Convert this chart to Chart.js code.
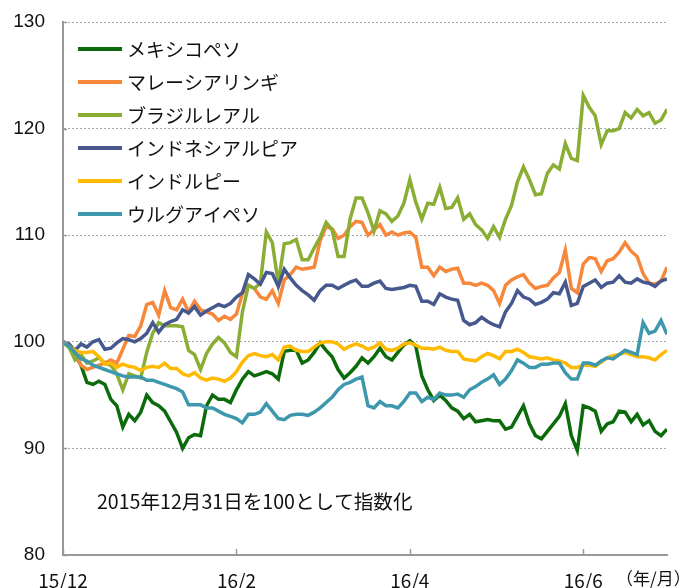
<!DOCTYPE html>
<html>
<head>
<meta charset="utf-8">
<script src="https://cdn.jsdelivr.net/npm/chart.js@4.4.1/dist/chart.umd.min.js"></script>
<style>
  html, body { margin: 0; padding: 0; background: #fff; }
</style>
</head>
<body>
<canvas id="fxChart" width="693" height="588"></canvas>
<script>
// ── DATA ───────────────────────────────────────────────────────
// 2015/12/31 = 100, one value per trading-day sample
const seriesNames = ['メキシコペソ', 'マレーシアリンギ', 'ブラジルレアル', 'インドネシアルピア', 'インドルピー', 'ウルグアイペソ'];
const seriesColors = ['#0b6b0b', '#f7873a', '#8aae34', '#46588e', '#ffba00', '#3d98ae'];

const mexico = [
  100.0, 99.5, 98.8, 97.8, 96.2, 96.0, 96.3, 96.0, 94.6, 94.0,
  92.0, 93.2, 92.6, 93.4, 95.0, 94.3, 94.0, 93.5, 92.5, 91.5,
  90.0, 91.0, 91.3, 91.2, 94.0, 95.0, 94.6, 94.6, 94.3, 95.5,
  96.5, 97.2, 96.8, 97.0, 97.2, 97.0, 96.5, 99.1, 99.2, 99.2,
  98.0, 98.3, 99.0, 99.9, 99.2, 98.6, 97.4, 96.6, 97.1, 97.7,
  98.5, 98.0, 98.6, 99.4, 98.6, 98.3, 99.0, 99.7, 100.1, 99.6,
  96.8, 95.5, 94.5, 95.0, 94.5, 93.8, 93.5, 92.8, 93.2, 92.5,
  92.6, 92.7, 92.6, 92.6, 91.8, 92.0, 93.0, 94.0, 92.3, 91.2,
  90.9, 91.6, 92.3, 93.0, 94.2, 91.2, 89.8, 94.0, 93.8, 93.5,
  91.6, 92.3, 92.5, 93.5, 93.4, 92.5, 93.2, 92.2, 92.6, 91.6, 91.2, 91.8
];
const malaysia = [
  100.0, 99.7, 99.0, 97.8, 97.4, 97.6, 97.8, 98.0, 98.3, 98.0,
  99.3, 100.6, 100.5, 101.5, 103.5, 103.7, 102.5, 104.8, 103.2, 103.0,
  104.0, 102.8, 103.8, 103.0, 102.8, 102.6, 102.0, 102.4, 102.1, 102.6,
  104.5, 105.3, 105.0, 104.2, 104.0, 104.8, 103.6, 105.8, 106.3, 107.0,
  106.8, 106.9, 107.0, 109.5, 110.8, 110.6, 109.7, 110.0, 110.8, 111.3,
  111.2, 110.0, 110.5, 111.0, 110.0, 110.3, 110.0, 110.2, 110.3, 109.8,
  107.0, 107.0, 106.2, 107.0, 106.6, 106.8, 106.9, 105.5, 105.5, 105.3,
  105.5, 105.3, 104.8, 103.6, 105.3, 105.8, 106.1, 106.3, 105.5, 105.0,
  105.2, 105.3, 106.0, 106.5, 108.6, 105.0, 104.6, 107.3, 107.9, 107.8,
  106.6, 107.6, 107.8, 108.4, 109.3, 108.5, 108.0, 106.4, 105.5, 105.4, 105.7, 107.0
];
const brazil = [
  100.0, 99.5, 98.3, 98.8, 98.0, 98.2, 98.5, 98.0, 97.8, 97.0,
  95.5, 97.0, 96.8, 96.6, 99.0, 100.8, 101.8, 101.5, 101.5, 101.5,
  101.4, 99.2, 98.8, 97.4, 98.9, 99.8, 100.4, 99.9, 99.0, 98.6,
  102.8, 105.3, 105.0, 105.5, 110.3, 109.3, 105.5, 109.2, 109.3, 109.6,
  107.7, 107.7, 108.8, 109.8, 111.2, 110.5, 108.0, 108.0, 111.5, 113.5,
  113.5, 112.1, 110.4, 112.3, 112.0, 111.3, 111.8, 113.0, 115.2, 113.1,
  111.5, 113.0, 112.9, 114.5, 112.5, 112.6, 113.5, 111.5, 112.0, 111.0,
  110.5, 109.7, 110.8, 109.8, 111.5, 112.8, 115.0, 116.4, 115.2, 113.8,
  113.9, 115.8, 116.6, 116.2, 118.6, 117.2, 117.0, 123.1, 122.0, 121.2,
  118.5, 119.8, 119.8, 120.0, 121.5, 121.0, 121.8, 121.2, 121.5, 120.5, 120.8, 121.8
];
const indonesia = [
  100.0, 99.8, 99.2, 99.8, 99.5, 100.0, 100.2, 99.3, 99.4, 99.9,
  100.3, 100.2, 100.0, 100.3, 100.8, 101.8, 100.9, 101.6, 101.9, 102.1,
  103.0, 102.7, 103.3, 102.5, 102.9, 103.2, 103.5, 103.3, 103.6, 104.2,
  104.6, 106.3, 105.9, 105.4, 106.5, 106.4, 105.2, 106.8, 106.0, 105.3,
  104.8, 104.4, 103.9, 104.8, 105.3, 105.3, 105.0, 105.3, 105.6, 105.8,
  105.2, 105.2, 105.5, 105.7, 105.0, 104.9, 105.0, 105.1, 105.3, 105.2,
  103.8, 103.8, 103.5, 104.5, 104.2, 104.0, 103.9, 102.0, 101.6, 101.8,
  102.3, 101.9, 101.6, 101.4, 102.8, 103.6, 104.8, 104.2, 104.0, 103.5,
  103.7, 104.0, 104.6, 104.5, 105.6, 103.4, 103.6, 105.2, 105.5, 105.8,
  105.1, 105.5, 105.6, 106.2, 105.6, 105.5, 105.9, 105.6, 105.5, 105.2, 105.7, 105.9
];
const india = [
  100.0, 99.6, 99.2, 99.0, 99.0, 99.1, 98.6, 97.9, 98.0, 97.6,
  97.9, 97.7, 97.6, 97.3, 97.6, 97.7, 97.6, 98.0, 97.5, 97.5,
  97.0, 96.8, 97.1, 96.6, 96.4, 96.6, 96.5, 96.3, 96.6, 97.2,
  98.1, 98.7, 98.9, 98.7, 98.6, 98.8, 98.3, 99.5, 99.6, 99.2,
  99.1, 99.1, 99.5, 99.9, 100.0, 100.0, 99.8, 99.3, 99.6, 99.8,
  99.6, 99.3, 99.5, 99.9, 99.3, 99.2, 99.4, 99.8, 99.9, 99.7,
  99.4, 99.4, 99.3, 99.5, 99.2, 99.1, 99.1, 98.4, 98.3, 98.2,
  98.6, 98.9, 98.7, 98.4, 99.1, 99.1, 99.3, 99.0, 98.6, 98.5,
  98.4, 98.5, 98.3, 98.2, 98.0, 97.6, 97.6, 97.8, 97.8, 97.7,
  98.1, 98.5, 98.7, 98.8, 99.0, 98.8, 98.6, 98.6, 98.5, 98.3, 98.8, 99.2
];
const uruguay = [
  100.0, 99.6, 99.0, 98.4, 98.2, 97.8, 97.6, 97.4, 97.2, 97.0,
  96.8, 96.7, 96.7, 96.7, 96.4, 96.4, 96.2, 96.0, 95.8, 95.6,
  95.3, 94.1, 94.1, 94.1, 93.8, 93.8, 93.5, 93.2, 93.0, 92.8,
  92.4, 93.2, 93.2, 93.4, 94.2, 93.5, 92.8, 92.7, 93.1, 93.2,
  93.2, 93.1, 93.4, 93.8, 94.3, 94.8, 95.5, 96.0, 96.2, 96.5,
  96.7, 94.0, 93.8, 94.4, 94.0, 94.0, 93.8, 94.4, 95.2, 95.2,
  94.4, 94.8, 94.6, 95.2, 95.0, 95.0, 95.1, 94.8, 95.5, 95.8,
  96.2, 96.5, 96.9, 96.0, 96.5, 97.3, 98.3, 98.0, 97.6, 97.6,
  97.9, 97.9, 98.0, 98.0, 97.1, 96.5, 96.5, 98.0, 98.0, 97.8,
  98.2, 98.5, 98.4, 98.8, 99.2, 99.0, 98.8, 101.8, 100.8, 101.0, 102.0, 100.7
];

const tickLabels = ['15/12', '16/2', '16/4', '16/6'];
const tickStep = 29;          // samples between month labels
const yMin = 80, yMax = 130, yStep = 10;
const unitLabel = '（年/月）';
const noteText = '2015年12月31日を100として指数化';

const allSeries = [mexico, malaysia, brazil, indonesia, india, uruguay];
const sampleIdx = mexico.map((_, i) => i);

const JP = '"Noto Sans CJK JP", "Noto Sans", sans-serif';

// ── DECORATIONS (inner ticks, legend, note) ───────────────────
const decor = {
  id: 'decor',
  afterDraw(chart) {
    const { ctx, chartArea: a, scales: { x, y } } = chart;
    ctx.save();
    ctx.strokeStyle = '#999';
    ctx.lineWidth = 1.5;
    x.ticks.forEach(t => {
      const px = Math.round(x.getPixelForValue(t.value)) + 0.5;
      ctx.beginPath(); ctx.moveTo(px, a.bottom); ctx.lineTo(px, a.bottom - 6); ctx.stroke();
    });
    y.ticks.forEach(t => {
      const py = Math.round(y.getPixelForValue(t.value)) + 0.5;
      ctx.beginPath(); ctx.moveTo(a.left, py); ctx.lineTo(a.left + 4, py); ctx.stroke();
    });

    // legend
    ctx.font = '19px ' + JP;
    ctx.textBaseline = 'middle';
    ctx.textAlign = 'left';
    chart.data.datasets.forEach((ds, i) => {
      const ly = a.top + 27 + i * 33;
      ctx.strokeStyle = ds.borderColor;
      ctx.lineWidth = 4;
      ctx.beginPath(); ctx.moveTo(a.left + 15, ly); ctx.lineTo(a.left + 59, ly); ctx.stroke();
      ctx.fillStyle = '#111';
      ctx.fillText(ds.label, a.left + 64, ly + 1);
    });

    // note
    ctx.font = '19.6px ' + JP;
    ctx.fillText(noteText, a.left + 34, 502);

    // unit
    ctx.font = '17px ' + JP;
    ctx.fillText(unitLabel, 616, 579);
    ctx.restore();
  }
};

// ── CHART ──────────────────────────────────────────────────────
const ctx = document.getElementById('fxChart').getContext('2d');
const chart = new Chart(ctx, {
  type: 'line',
  data: {
    labels: sampleIdx,
    datasets: allSeries.map((d, i) => ({
      label: seriesNames[i],
      data: d,
      borderColor: seriesColors[i],
      borderWidth: 3.5,
      pointRadius: 0,
      tension: 0,
      fill: false,
      order: allSeries.length - i
    }))
  },
  options: {
    responsive: false,
    animation: false,
    layout: { padding: { top: 22, right: 26, left: 0, bottom: 0 } },
    plugins: { legend: { display: false }, tooltip: { enabled: false } },
    scales: {
      x: {
        type: 'linear',
        min: 0,
        max: sampleIdx.length - 1,
        afterBuildTicks: s => { s.ticks = tickLabels.map((_, k) => ({ value: k * tickStep })); },
        afterFit: s => { s.height = 33; },
        grid: { display: false, drawTicks: false },
        border: { display: true, color: '#999', width: 2 },
        ticks: {
          autoSkip: false,
          maxRotation: 0,
          padding: 14,
          color: '#111',
          font: { family: JP, size: 19 },
          callback: v => tickLabels[Math.round(v / tickStep)]
        }
      },
      y: {
        min: yMin,
        max: yMax,
        afterFit: s => { s.width = 63; s.paddingTop = 10; s.paddingBottom = 10; },
        grid: { color: '#a6a6a6', lineWidth: 1, drawTicks: false },
        border: { display: true, color: '#999', width: 2, dash: [2, 2] },
        ticks: {
          stepSize: yStep,
          padding: 18,
          color: '#111',
          font: { family: '"Liberation Sans", Arial, sans-serif', size: 19 }
        }
      }
    }
  },
  plugins: [decor]
});
</script>
</body>
</html>
